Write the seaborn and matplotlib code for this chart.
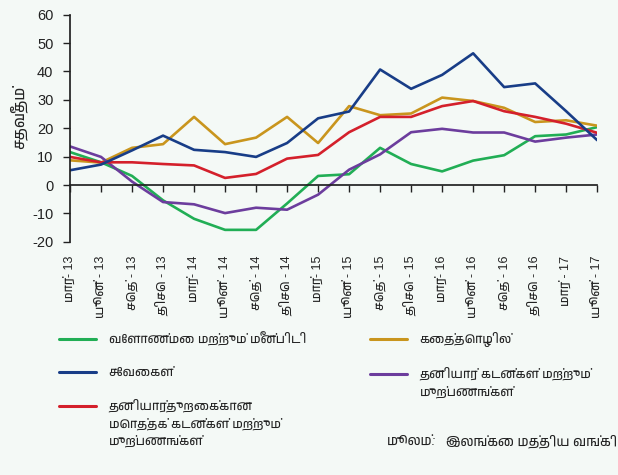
import matplotlib
matplotlib.use("Agg")
import matplotlib.pyplot as plt
from matplotlib import font_manager
from matplotlib.lines import Line2D
from matplotlib.legend_handler import HandlerLine2D
import seaborn as sns
import pandas as pd

# Quarterly growth of credit by sector (per cent)
periods = ["மார்- 13", "யூன் - 13", "செத் - 13", "திசெ - 13",
           "மார்- 14", "யூன் - 14", "செத் - 14", "திசெ - 14",
           "மார்- 15", "யூன் - 15", "செத் - 15", "திசெ - 15",
           "மார்- 16", "யூன் - 16", "செத் - 16", "திசெ - 16",
           "மார் - 17", "யூன் - 17"]

agriculture = [11.6, 8.0, 3.2, -5.4, -11.9, -15.8, -15.8, -6.5, 3.2,
               3.8, 13.1, 7.4, 4.8, 8.6, 10.5, 17.2, 17.8, 20.4]
industry = [8.7, 7.9, 13.1, 14.4, 24.0, 14.4, 16.7, 24.0, 14.8,
            27.8, 24.6, 25.2, 30.8, 29.6, 27.2, 22.2, 22.8, 20.9]
services = [5.2, 7.2, 12.2, 17.4, 12.4, 11.6, 9.9, 14.8, 23.5,
            25.9, 40.7, 33.9, 38.8, 46.4, 34.5, 35.8, 26.0, 15.8]
personal = [13.6, 9.9, 1.2, -6.0, -6.8, -9.9, -8.0, -8.7, -3.4,
            5.4, 10.8, 18.6, 19.8, 18.5, 18.5, 15.3, 16.7, 17.8]
private_total = [9.9, 8.0, 8.0, 7.4, 6.9, 2.5, 3.9, 9.3, 10.6,
                 18.6, 24.0, 24.0, 27.8, 29.6, 26.0, 24.0, 21.6, 18.4]

lbl_agri = "வேளாண்மை மற்றும் மீன்பிடி"
lbl_serv = "சேவைகள்"
lbl_priv = "தனியார்துறைக்கான\nமொத்தக் கடன்கள் மற்றும்\nமுற்பணங்கள்"
lbl_ind = "கைத்தொழில்"
lbl_pers = "தனியார் கடன்கள் மற்றும்\nமுற்பணங்கள்"

colors = {
    lbl_agri: "#21ae55",
    lbl_ind: "#c9951d",
    lbl_serv: "#183d87",
    lbl_pers: "#6c3d9d",
    lbl_priv: "#d4202b",
}

series = [(lbl_agri, agriculture), (lbl_ind, industry), (lbl_pers, personal),
          (lbl_priv, private_total), (lbl_serv, services)]
rows = []
for name, vals in series:
    for i, v in enumerate(vals):
        rows.append({"pos": i, "value": v, "series": name})
df = pd.DataFrame(rows)

sns.set_theme(style="white")
tamil_fonts = sorted({f.name for f in font_manager.fontManager.ttflist if "Tamil" in f.name})
plt.rcParams["font.family"] = ["Liberation Sans"] + tamil_fonts + ["DejaVu Sans"]
plt.rcParams["axes.unicode_minus"] = False

ink = "#222222"
bg = "#f4f9f6"
fig = plt.figure(figsize=(6.18, 4.75), dpi=100, facecolor=bg)
ax = fig.add_axes([0.1133, 0.491, 0.853, 0.478])
ax.set_facecolor(bg)

sns.lineplot(data=df, x="pos", y="value", hue="series", palette=colors,
             hue_order=[s[0] for s in series], sort=False, linewidth=1.9,
             legend=False, ax=ax)

ax.set_xlim(0, len(periods) - 1)
ax.set_ylim(-20, 60)
ax.set_yticks(range(-20, 61, 10))
ax.tick_params(axis="y", labelsize=10.5, length=5, width=1, direction="out",
               colors=ink, left=True, pad=7)

# zero line carries the category ticks
for s in ["top", "right"]:
    ax.spines[s].set_visible(False)
ax.spines["left"].set_color(ink)
ax.spines["bottom"].set_position(("data", 0))
ax.spines["bottom"].set_color(ink)
ax.set_xticks(range(len(periods)))
ax.tick_params(axis="x", bottom=True, length=5, width=1, direction="out",
               labelbottom=False, colors=ink)

# category labels sit under the plotting area
sec = ax.secondary_xaxis("bottom")
sec.set_xticks(range(len(periods)), labels=periods)
sec.spines["bottom"].set_visible(False)
sec.tick_params(axis="x", length=0, pad=10, labelsize=9, labelrotation=90,
                colors=ink)

ax.set_xlabel("")
ax.set_ylabel("சதவீதம்", fontsize=11, color=ink)
ax.yaxis.set_label_coords(-0.082, 0.55)


class TopLineHandler(HandlerLine2D):
    """Legend line raised to sit beside the first row of a wrapped label."""

    def __init__(self, lift=0.0, **kw):
        super().__init__(**kw)
        self.lift = lift

    def create_artists(self, legend, orig_handle, xdescent, ydescent,
                       width, height, fontsize, trans):
        artists = super().create_artists(legend, orig_handle, xdescent, ydescent,
                                         width, height, fontsize, trans)
        for a in artists:
            a.set_ydata([y + self.lift for y in a.get_ydata()])
        return artists


def make_handle(name):
    return Line2D([], [], color=colors[name], linewidth=2.2)


line_step = 13.0  # points between wrapped rows of a label
legend_kw = dict(frameon=False, fontsize=9, handlelength=3.0, handletextpad=1.0,
                 labelspacing=1.65, borderaxespad=0, borderpad=0,
                 labelcolor=ink)

left_names = [lbl_agri, lbl_serv, lbl_priv]
right_names = [lbl_ind, lbl_pers]
left_handles = [make_handle(n) for n in left_names]
right_handles = [make_handle(n) for n in right_names]

leg1 = fig.legend(left_handles, left_names, loc="upper left",
                  bbox_to_anchor=(0.095, 0.301),
                  handler_map={left_handles[2]: TopLineHandler(lift=line_step)},
                  **legend_kw)
leg2 = fig.legend(right_handles, right_names, loc="upper left",
                  bbox_to_anchor=(0.598, 0.301),
                  handler_map={right_handles[1]: TopLineHandler(lift=line_step / 2)},
                  **legend_kw)
for leg in (leg1, leg2):
    for t in leg.get_texts():
        t.set_linespacing(1.45)

fig.text(0.626, 0.070, "மூலம்:", fontsize=9.5, style="italic", color=ink,
         va="center", ha="left")
fig.text(0.722, 0.070, "இலங்கை மத்திய வங்கி", fontsize=9.5, color=ink,
         va="center", ha="left")

fig.savefig("out.png", dpi=100, facecolor=bg)
